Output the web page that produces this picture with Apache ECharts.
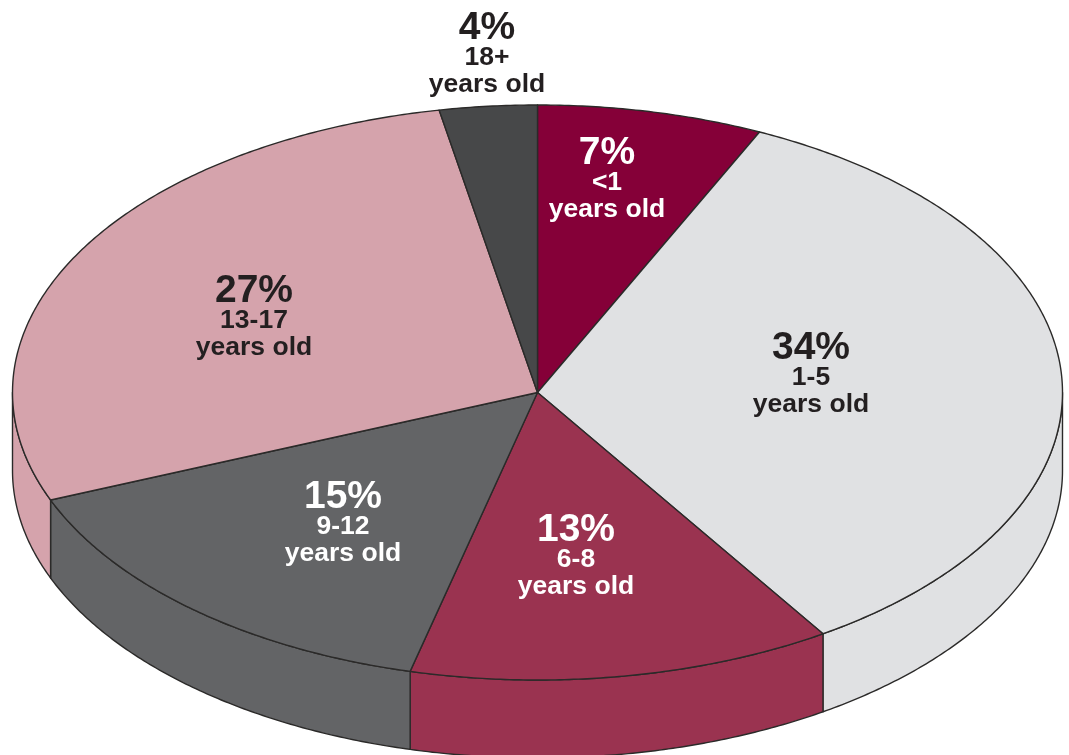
<!DOCTYPE html>
<html>
<head>
<meta charset="utf-8">
<style>html,body{margin:0;padding:0;background:#fff}#c{width:1069px;height:755px}</style>
<script src="https://cdn.jsdelivr.net/npm/echarts@6/dist/echarts.min.js"></script>
</head>
<body>
<div id="c"></div>
<script>
// Printed labels
var percentLabels = ['7%', '34%', '13%', '15%', '27%', '4%'];
var ageLabels = ['<1', '1-5', '6-8', '9-12', '13-17', '18+'];
// Share of the circle each slice occupies as drawn
var sliceShares = [6.95, 33.9, 13.05, 15, 28.1, 3];
var topColors = ['#850038', '#e0e1e3', '#9a3350', '#636466', '#d5a3ac', '#474849'];
var textColors = ['#ffffff', '#231f20', '#ffffff', '#ffffff', '#231f20', '#231f20'];

// Layout only
var PIE = {cx: 537.5, cy: 392.5, rx: 525, ry: 287.5, depth: 78};
var LABEL_AT = [[607, 153], [811, 348], [576, 530], [343, 497], [254, 291], [487, 28]];
var STROKE = '#2b2a29';
var FONT = 'bold {s}px "Liberation Sans", Arial, sans-serif';

var total = sliceShares.reduce(function (a, b) { return a + b; }, 0);
function pt(deg, dy) {
  var t = deg * Math.PI / 180;
  return [PIE.cx + PIE.rx * Math.sin(t), PIE.cy - PIE.ry * Math.cos(t) + (dy || 0)];
}
function arc(a, b, dy) {
  var out = [], n = Math.max(2, Math.ceil(Math.abs(b - a) * 2));
  for (var i = 0; i <= n; i++) out.push(pt(a + (b - a) * i / n, dy));
  return out;
}
function text(str, x, y, size, fill) {
  return {type: 'text', z2: 5, x: x, y: y, silent: true, style: {
    text: str, align: 'center', verticalAlign: 'middle', fill: fill,
    font: FONT.replace('{s}', size)
  }};
}
function renderSlice(params, api) {
  var i = params.dataIndex, before = 0;
  for (var k = 0; k < i; k++) before += sliceShares[k];
  var a0 = before / total * 360, a1 = (before + api.value(0)) / total * 360;
  var kids = [];
  // Front wall: only the part of the rim facing the viewer
  var w0 = Math.max(a0, 90), w1 = Math.min(a1, 270);
  if (w1 > w0) {
    kids.push({type: 'polygon', z2: 1, shape: {points: arc(w0, w1, 0).concat(arc(w1, w0, PIE.depth))},
      style: {fill: topColors[i], stroke: STROKE, lineWidth: 1.4, lineJoin: 'round'}});
  }
  kids.push({type: 'polygon', z2: 2, shape: {points: [[PIE.cx, PIE.cy]].concat(arc(a0, a1, 0))},
    style: {fill: topColors[i], stroke: STROKE, lineWidth: 1.4, lineJoin: 'round'}});
  var p = LABEL_AT[i], c = textColors[i];
  kids.push(text(percentLabels[i], p[0], p[1], 39, c));
  kids.push(text(ageLabels[i], p[0], p[1] + 30, 26.5, c));
  kids.push(text('years old', p[0], p[1] + 57, 26.5, c));
  return {type: 'group', children: kids};
}
var chart = echarts.init(document.getElementById('c'), null, {renderer: 'canvas'});
chart.setOption({
  animation: false,
  backgroundColor: '#ffffff',
  series: [{
    type: 'custom',
    coordinateSystem: 'none',
    renderItem: renderSlice,
    clip: false,
    silent: true,
    data: sliceShares.map(function (v) { return [v]; })
  }]
});
</script>
</body>
</html>
